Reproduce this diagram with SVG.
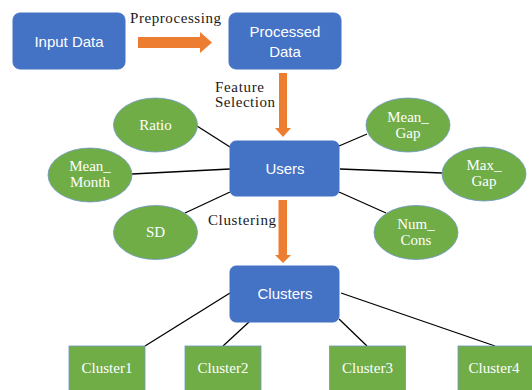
<svg xmlns="http://www.w3.org/2000/svg" width="532" height="390" viewBox="0 0 532 390">
<defs>
<style>
.box{fill:#4472C4;stroke:#4472C4;stroke-width:1}
.ell{fill:#70AD47;stroke:#6F97C6;stroke-width:0.8}
.cl{fill:#70AD47;stroke:#6F97C6;stroke-width:0.8}
.arr{fill:#ED7D31}
.ln{stroke:#000;stroke-width:1.3;fill:none}
.st{font-family:"Liberation Sans",Arial,sans-serif;font-size:15px;fill:#fff;text-anchor:middle}
.sf{font-family:"Liberation Serif","Times New Roman",serif;font-size:15px;fill:#fff;text-anchor:middle}
.lb{font-family:"Liberation Serif","Times New Roman",serif;font-size:15px;fill:#1a1a1a}
</style>
</defs>
<rect width="532" height="390" fill="#fff"/>
<g id="connectors">
<line class="ln" x1="197" y1="126" x2="230" y2="147"/>
<line class="ln" x1="132" y1="174" x2="230" y2="169"/>
<line class="ln" x1="185" y1="213" x2="230" y2="192"/>
<line class="ln" x1="367" y1="134" x2="339" y2="146"/>
<line class="ln" x1="442" y1="173" x2="340" y2="169"/>
<line class="ln" x1="386" y1="213" x2="339" y2="192"/>
<line class="ln" x1="230" y1="293" x2="145" y2="346"/>
<line class="ln" x1="249" y1="322" x2="223" y2="346"/>
<line class="ln" x1="339" y1="319" x2="367" y2="346"/>
<line class="ln" x1="341" y1="293" x2="495" y2="346"/>
<polygon class="arr" points="138,37 200,37 200,32 212,42.5 200,53 200,48 138,48"/>
<polygon class="arr" points="279,73 287,73 287,128 291,128 283,137 275,128 279,128"/>
<polygon class="arr" points="278.5,200 287,200 287,255 291,255 283,263 275,255 278.5,255"/>
<text class="lb" x="130" y="23" textLength="91">Preprocessing</text>
<text class="lb" x="215" y="92" textLength="49">Feature</text>
<text class="lb" x="215" y="107" textLength="60">Selection</text>
<text class="lb" x="208" y="225" textLength="68">Clustering</text>
</g>
<g id="input-data">
<rect class="box" x="13" y="13" width="112" height="56" rx="7"/>
<text class="st" x="69" y="47">Input Data</text>
</g>
<g id="processed-data">
<rect class="box" x="229" y="13" width="112" height="56" rx="7"/>
<text class="st" x="285" y="37">Processed</text>
<text class="st" x="285" y="57">Data</text>
</g>
<g id="users">
<rect class="box" x="230" y="141" width="109" height="55" rx="6"/>
<text class="st" x="285" y="174">Users</text>
</g>
<g id="clusters">
<rect class="box" x="230" y="266" width="109" height="56" rx="6"/>
<text class="st" x="285" y="299">Clusters</text>
</g>
<g id="ratio">
<ellipse class="ell" cx="155.5" cy="125" rx="42" ry="27"/>
<text class="sf" x="155.5" y="130">Ratio</text>
</g>
<g id="mean-month">
<ellipse class="ell" cx="90" cy="175" rx="42" ry="27"/>
<text class="sf" x="90" y="171">Mean_</text>
<text class="sf" x="90" y="187">Month</text>
</g>
<g id="sd">
<ellipse class="ell" cx="155.5" cy="232.5" rx="42" ry="27"/>
<text class="sf" x="155.5" y="237">SD</text>
</g>
<g id="mean-gap">
<ellipse class="ell" cx="408" cy="125" rx="42" ry="27"/>
<text class="sf" x="408" y="122">Mean_</text>
<text class="sf" x="408" y="138">Gap</text>
</g>
<g id="max-gap">
<ellipse class="ell" cx="484" cy="174" rx="42" ry="27"/>
<text class="sf" x="484" y="170">Max_</text>
<text class="sf" x="484" y="186">Gap</text>
</g>
<g id="num-cons">
<ellipse class="ell" cx="416" cy="232.5" rx="42" ry="27"/>
<text class="sf" x="416" y="229">Num_</text>
<text class="sf" x="416" y="245">Cons</text>
</g>
<g id="cluster1">
<rect class="cl" x="69" y="346" width="76" height="48"/>
<text class="sf" x="107" y="373">Cluster1</text>
</g>
<g id="cluster2">
<rect class="cl" x="185" y="346" width="76" height="48"/>
<text class="sf" x="223" y="373">Cluster2</text>
</g>
<g id="cluster3">
<rect class="cl" x="329.5" y="346" width="76" height="48"/>
<text class="sf" x="367.5" y="373">Cluster3</text>
</g>
<g id="cluster4">
<rect class="cl" x="458" y="346" width="76" height="48"/>
<text class="sf" x="494" y="373">Cluster4</text>
</g>
</svg>
